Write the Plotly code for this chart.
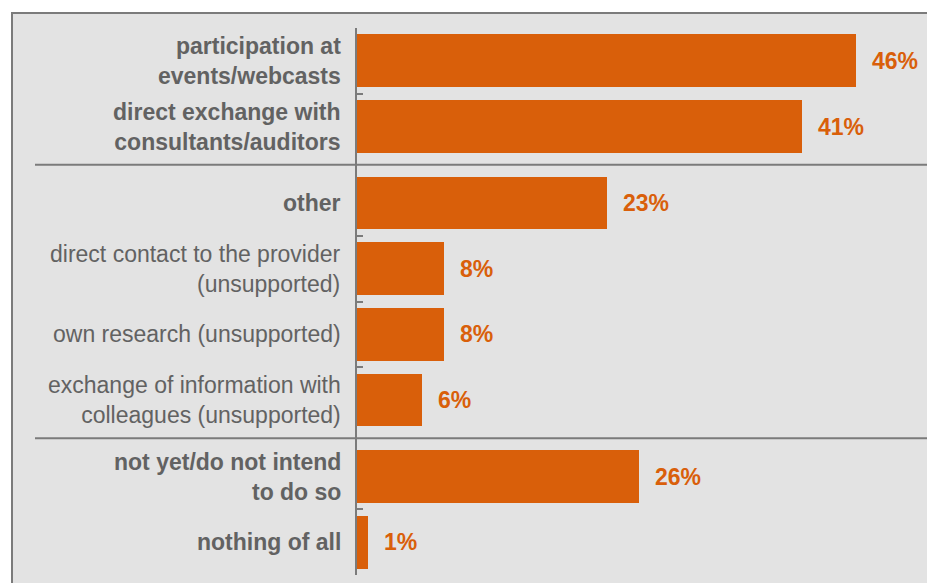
import plotly.graph_objects as go

# Survey answers, grouped into three blocks (separated by rules)
labels = [
    "participation at<br>events/webcasts",
    "direct exchange with<br>consultants/auditors",
    "other",
    "direct contact to the provider<br>(unsupported)",
    "own research (unsupported)",
    "exchange of information with<br>colleagues (unsupported)",
    "not yet/do not intend<br>to do so",
    "nothing of all",
]
values = [46, 41, 23, 8, 8, 6, 26, 1]
groups = [0, 0, 1, 1, 1, 1, 2, 2]
bold = [True, True, True, False, False, False, True, True]

ORANGE = "#d95f0a"
GREY_TXT = "#626262"
PANEL = "#e3e3e3"
RULE = "#7b7b7b"
FONT = "Liberation Sans, Arial, Helvetica, sans-serif"

W, H = 927, 583
L, R, T, B = 357, 0, 28, 8
GROUP_GAP = 0.165

# vertical position of each bar: index plus extra space per group break
ypos = [i + GROUP_GAP * g for i, g in enumerate(groups)]
y_top, y_bot = -0.5, ypos[-1] + 0.5

# tick marks on the category boundaries inside each group
tick_vals = [y_top, y_bot]
seps = []
for i in range(len(ypos) - 1):
    mid = (ypos[i] + ypos[i + 1]) / 2
    if groups[i] == groups[i + 1]:
        tick_vals.append(mid)
    else:
        seps.append(mid)

fig = go.Figure(
    go.Bar(
        x=values,
        y=ypos,
        orientation="h",
        width=0.805,
        marker=dict(color=ORANGE, line=dict(width=0)),
        hoverinfo="skip",
    )
)

pw = W - L - R
ph = H - T - B


def px_to_paper_x(px):
    return (px - L) / pw


def px_to_paper_y(py):
    return (H - B - py) / ph


shapes = [
    # grey panel with the frame on its top and left edges
    dict(type="rect", xref="paper", yref="paper",
         x0=px_to_paper_x(12), x1=px_to_paper_x(W + 20),
         y0=px_to_paper_y(H + 20), y1=px_to_paper_y(13),
         fillcolor=PANEL, line=dict(color=RULE, width=2), layer="below"),
]
for s in seps:
    shapes.append(dict(type="line", xref="paper", yref="y",
                       x0=px_to_paper_x(35), x1=px_to_paper_x(W + 5),
                       y0=s, y1=s, line=dict(color=RULE, width=2)))

annotations = []
for lab, v, y, b in zip(labels, values, ypos, bold):
    txt = "<br>".join(f"<b>{p}</b>" if b else p for p in lab.split("<br>"))
    annotations.append(dict(
        x=0, xref="paper", y=y, yref="y", text=txt, showarrow=False,
        xanchor="right", yanchor="middle", align="right", xshift=-14,
        font=dict(family=FONT, size=23, color=GREY_TXT),
    ))
    annotations.append(dict(
        x=v, xref="x", y=y, yref="y", text=f"<b>{v}%</b>", showarrow=False,
        xanchor="left", yanchor="middle", xshift=14,
        font=dict(family=FONT, size=23, color=ORANGE),
    ))

fig.update_layout(
    width=W, height=H,
    margin=dict(l=L, r=R, t=T, b=B, pad=0),
    paper_bgcolor="white",
    plot_bgcolor="rgba(0,0,0,0)",
    showlegend=False,
    bargap=0,
    shapes=shapes,
    annotations=annotations,
    xaxis=dict(range=[0, pw / 10.85], visible=False, fixedrange=True),
    yaxis=dict(
        range=[y_bot, y_top],
        tickmode="array", tickvals=tick_vals, showticklabels=False,
        ticks="inside", ticklen=6, tickwidth=2, tickcolor=RULE,
        showline=True, linecolor=RULE, linewidth=2,
        showgrid=False, zeroline=False, fixedrange=True,
    ),
)

fig.write_html("out.html")
